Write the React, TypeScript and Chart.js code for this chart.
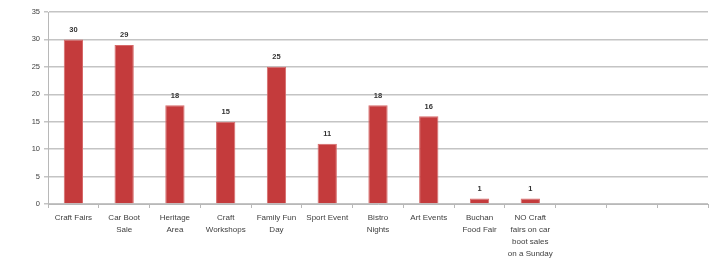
import React, { useEffect, useRef } from "react";
import { Chart, registerables } from "chart.js";

Chart.register(...registerables);

const categories: (string | string[])[] = [
  "Craft Fairs",
  ["Car Boot", "Sale"],
  ["Heritage", "Area"],
  ["Craft", "Workshops"],
  ["Family Fun", "Day"],
  "Sport Event",
  ["Bistro", "Nights"],
  "Art Events",
  ["Buchan", "Food Fair"],
  ["NO Craft", "fairs on car", "boot sales", "on a Sunday"],
  "",
  "",
  "",
];
const values: (number | null)[] = [30, 29, 18, 15, 25, 11, 18, 16, 1, 1, null, null, null];
const yMin = 0;
const yMax = 35;
const yStep = 5;

const valueLabels = {
  id: "valueLabels",
  afterDatasetsDraw(chart: any) {
    const ctx = chart.ctx;
    const meta = chart.getDatasetMeta(0);
    ctx.save();
    ctx.font = "bold 7.5px 'Liberation Sans', Arial, sans-serif";
    ctx.fillStyle = "#333333";
    ctx.textAlign = "center";
    ctx.textBaseline = "bottom";
    meta.data.forEach((bar: any, i: number) => {
      const v = values[i];
      if (v === null || v === undefined) return;
      ctx.fillText(String(v), bar.x, bar.y - 6);
    });
    ctx.restore();
  },
};

export default function App() {
  const ref = useRef<HTMLCanvasElement | null>(null);
  useEffect(() => {
    document.body.style.margin = "0";
    document.body.style.background = "#ffffff";
    const chart = new Chart(ref.current as HTMLCanvasElement, {
      type: "bar",
      data: {
        labels: categories,
        datasets: [
          {
            data: values,
            backgroundColor: "#C43B3C",
            borderColor: "#D66A6A",
            borderWidth: 1,
            barPercentage: 0.38,
            categoryPercentage: 1,
          },
        ],
      },
      options: {
        animation: false,
        responsive: false,
        devicePixelRatio: 1,
        layout: { padding: { top: 12, right: 11, left: 0, bottom: 0 } },
        plugins: { legend: { display: false }, tooltip: { enabled: false } },
        scales: {
          x: {
            grid: {
              offset: true,
              drawOnChartArea: false,
              drawTicks: true,
              tickLength: 4,
              color: "#b8b8b8",
            },
            border: { color: "#b8b8b8", width: 1 },
            ticks: {
              autoSkip: false,
              maxRotation: 0,
              minRotation: 0,
              color: "#404040",
              padding: 4,
              font: { size: 8, family: "'Liberation Sans', Arial, sans-serif", lineHeight: 1.5 },
            },
            afterFit(scale: any) {
              scale.height = 57;
            },
          },
          y: {
            min: yMin,
            max: yMax,
            ticks: {
              stepSize: yStep,
              color: "#404040",
              padding: 4,
              font: { size: 7.5, family: "'Liberation Sans', Arial, sans-serif" },
            },
            grid: { color: "#c4c4c4", lineWidth: 1.5, tickLength: 4 },
            border: { color: "#b8b8b8", width: 1 },
            afterFit(scale: any) {
              scale.width = 48;
            },
          },
        },
      },
      plugins: [valueLabels],
    });
    return () => chart.destroy();
  }, []);
  return (
    <div style={{ position: "absolute", left: 0, top: 0, width: 719, height: 261, background: "#fff" }}>
      <canvas ref={ref} width={719} height={261} style={{ width: 719, height: 261, display: "block" }} />
    </div>
  );
}
